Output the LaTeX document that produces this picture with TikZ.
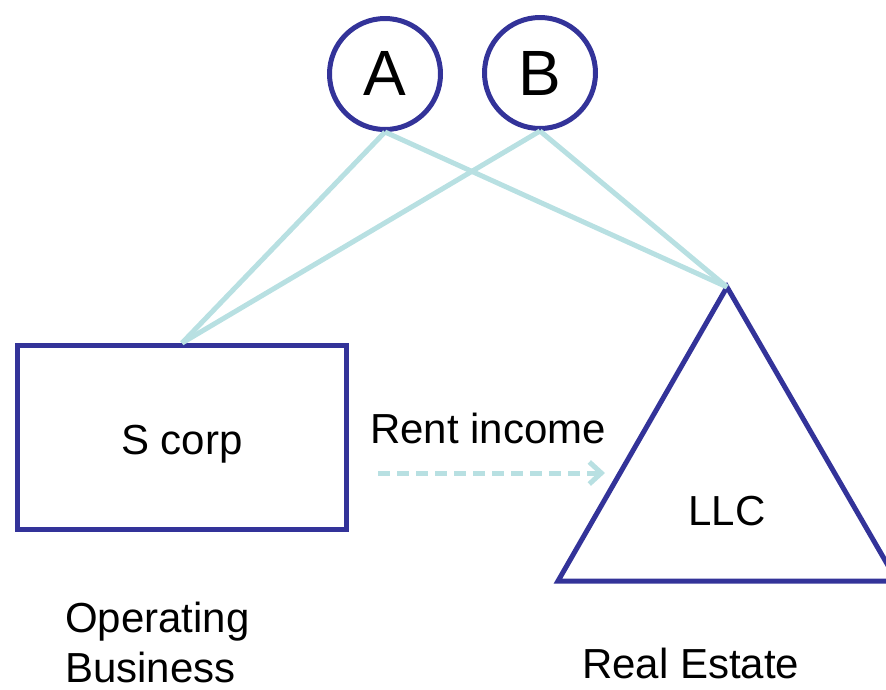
\documentclass[tikz,border=0pt]{standalone}
\usepackage{fontspec}
\setmainfont{Liberation Sans}
\usetikzlibrary{arrows.meta}
\definecolor{boxblue}{HTML}{333399}
\definecolor{linkcyan}{HTML}{B8E0E2}
\begin{document}
\begin{tikzpicture}[x=1pt,y=-1pt,
  owner/.style={circle,draw=boxblue,line width=5pt,minimum size=111pt,inner sep=0pt},
  entity/.style={rectangle,draw=boxblue,line width=5pt,minimum width=329pt,minimum height=184pt,
    inner sep=0pt},
  label/.style={anchor=base west,inner sep=0pt,font=\fontsize{42}{50}\selectfont},
  mid/.style={anchor=base,inner sep=0pt,font=\fontsize{42}{50}\selectfont},
  big/.style={anchor=base,inner sep=0pt,font=\fontsize{64}{70}\selectfont},
  link/.style={draw=linkcyan,line width=5pt},
  flow/.style={draw=linkcyan,line width=5pt,dash pattern=on 12pt off 7pt,
    -{Straight Barb[length=12pt,width=22pt,line width=5pt]}}]
\useasboundingbox (0,0) rectangle (886,689);

% owners
\node[owner] (A) at (385,74) {};
\node[owner] (B) at (540,73) {};
\node[big] (Alab) at (385,95) {A};
\node[big] (Blab) at (540,95) {B};

% operating company
\node[entity] (scorp) at (182,437.5) {};
\node[mid] (scorpLab) at (182,454) {S corp};

% real estate holding company (triangle)
\coordinate (apex) at (727,287);
\coordinate (baseL) at (558,581);
\coordinate (baseR) at (897,581);
\draw[boxblue,line width=5pt,line join=miter] (apex) -- (baseL) -- (baseR) -- cycle;
\node[mid] (llc) at (727,525) {LLC};

% ownership links
\draw[link] (A.south) -- (scorp.north);
\draw[link] (B.south) -- (scorp.north);
\draw[link] (A.south) -- (apex);
\draw[link] (B.south) -- (apex);

% rent flow
\coordinate (rentS) at (378,473);
\coordinate (rentE) at (605,473);
\draw[flow] (rentS) -- (rentE);
\node[label] (rent) at (370,443) {Rent income};

% captions
\node[label] (op) at (65,632) {Operating};
\node[label] (bus) at (65,682) {Business};
\node[label] (re) at (582,678) {Real Estate};
\end{tikzpicture}
\end{document}
